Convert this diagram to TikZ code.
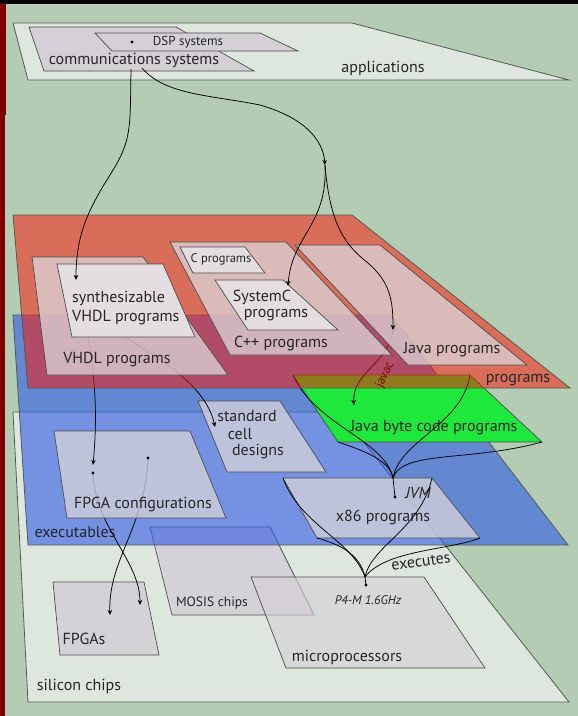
\documentclass[tikz,border=0pt]{standalone}
\usepackage{fontspec}
\setmainfont{PT Sans}
\usetikzlibrary{arrows.meta}
\definecolor{bg}{RGB}{180,204,180}
\definecolor{paper}{RGB}{222,231,222}
\definecolor{edge}{RGB}{80,92,80}
\definecolor{chip}{RGB}{212,208,214}
\definecolor{progred}{RGB}{255,16,0}
\definecolor{exeblue}{RGB}{46,89,229}
\definecolor{bytegreen}{RGB}{30,232,60}
\definecolor{exebox}{RGB}{215,212,218}
\definecolor{progbox}{RGB}{220,214,218}
\definecolor{subbox}{RGB}{228,222,224}
\definecolor{framered}{RGB}{128,0,0}
\begin{document}
\begin{tikzpicture}[x=1pt,y=-1pt,
  plane/.style={draw=edge, line width=0.8pt},
  box/.style={draw=black!70, line width=0.7pt},
  txt/.style={font=\fontsize{16}{18.5}\selectfont, inner sep=0pt, text=black!85},
  small/.style={font=\fontsize{13}{15}\selectfont, inner sep=0pt, text=black!85},
  link/.style={draw=black, line width=0.75pt},
  arr/.style={link, -{Stealth[length=5pt,width=4.5pt,inset=1.5pt]}},
  dot/.style={circle, fill=black, inner sep=0pt, minimum size=3.2pt}
]
\useasboundingbox (0,0) rectangle (578,716);
\fill[bg] (0,0) rectangle (578,716);

% ---------- silicon chips layer ----------
\filldraw[plane, fill=paper] (13,412) -- (340,412) -- (569,702) -- (28,702) -- cycle;
\node[txt] (silicon) at (79,686) {silicon chips};
\filldraw[box, fill=chip, fill opacity=0.9] (53,582) -- (144,582) -- (159,655) -- (60,655) -- cycle;
\node[txt] (fpgas) at (84,639) {FPGAs};
\filldraw[box, fill=chip, fill opacity=0.9] (150,527) -- (270,527) -- (314,615) -- (172,615) -- cycle;
\node[small, font=\fontsize{13.5}{15}\selectfont] (mosis) at (212,603) {MOSIS chips};
\filldraw[box, fill=chip, fill opacity=0.65] (251,577) -- (424,577) -- (485,668) -- (286,668) -- cycle;
\node[txt] (micro) at (347,657) {microprocessors};
\node[font=\fontsize{12.5}{14}\selectfont\itshape, inner sep=0pt, text=black!85] (p4m) at (368,600) {P4-M 1.6GHz};

% ---------- executables layer ----------
\filldraw[plane, fill=exeblue, fill opacity=0.6] (13,315) -- (391,315) -- (568,545) -- (28,545) -- cycle;
\node[txt] (exe) at (75,532) {executables};
\filldraw[box, fill=bytegreen] (293,375) -- (470,375) -- (542,442) -- (338,442) -- cycle;
\node[txt] (jbc) at (434,428) {Java byte code programs};

% configurations mapped onto FPGAs
\coordinate (cfgA) at (93,473);
\coordinate (cfgB) at (148,458);
\coordinate (fpgaA) at (140,605);
\coordinate (fpgaB) at (110,615);
\draw[arr] (cfgA) .. controls (95,528) and (140,560) .. (fpgaA);
\draw[arr] (cfgB) .. controls (145,528) and (108,560) .. (fpgaB);

\filldraw[box, fill=exebox, fill opacity=0.75] (54,431) -- (190,431) -- (226,518) -- (67,518) -- cycle;
\node[txt] (fpgacfg) at (143,504) {FPGA configurations};
\filldraw[box, fill=exebox, fill opacity=0.75] (198,401) -- (280,401) -- (326,472) -- (227,472) -- cycle;
\node[txt] (std1) at (247,416) {standard};
\node[txt] (std2) at (240,434) {cell};
\node[txt] (std3) at (258,452) {designs};
\filldraw[box, fill=exebox, fill opacity=0.75] (283,478) -- (432,478) -- (480,538) -- (317,538) -- cycle;
\node[txt] (x86) at (383,517) {x86 programs};
\node[dot] at (cfgA) {};
\node[dot] at (cfgB) {};

% Java byte code run by the JVM
\coordinate (jvmc) at (393,478);
\coordinate (jvm) at (395,497);
\draw[link] (293,375) .. controls (315,425) and (385,440) .. (jvmc);
\draw[link] (470,375) .. controls (462,425) and (400,440) .. (jvmc);
\draw[link] (542,442) .. controls (470,462) and (402,450) .. (jvmc);
\draw[link] (338,442) .. controls (362,450) and (390,460) .. (jvmc);
\draw[link] (jvmc) -- (jvm);
\node[dot] at (jvm) {};
\node[font=\fontsize{16}{18}\selectfont\itshape, inner sep=0pt, text=black!85] (jvmlbl) at (418,493) {JVM};

% x86 programs executed by the processor
\coordinate (p4c) at (365,577);
\coordinate (p4) at (366,585);
\draw[link] (283,478) .. controls (300,525) and (352,540) .. (p4c);
\draw[link] (317,538) .. controls (342,545) and (360,555) .. (p4c);
\draw[link] (432,478) .. controls (420,530) and (372,545) .. (p4c);
\draw[link] (480,538) .. controls (450,550) and (385,550) .. (p4c);
\draw[link] (p4c) -- (p4);
\node[dot] at (p4) {};
\node[txt, rotate=8] (executes) at (421,562) {executes};

% refinements drawn below the programs layer
\coordinate (synthpt) at (76,280);
\coordinate (vhdlsrc) at (100,322);
\coordinate (stdpt) at (215,427);
\coordinate (javapt) at (393,330);
\coordinate (bytept) at (354,405);
\draw[arr] (synthpt) .. controls (90,340) and (100,390) .. (93,465);
\draw[arr] (vhdlsrc) .. controls (145,350) and (205,380) .. (stdpt);
\draw[arr] (javapt) .. controls (388,365) and (352,372) .. (bytept);
\node[small, font=\fontsize{12.5}{14}\selectfont, rotate=65, text=black] (javac) at (385,375) {javac};

% ---------- programs layer ----------
\filldraw[plane, fill=progred, fill opacity=0.5] (13,215) -- (352,215) -- (570,388) -- (28,388) -- cycle;
\node[txt] (prog) at (518,380) {programs};
\filldraw[box, fill=progbox, fill opacity=0.75] (32,257) -- (143,257) -- (228,375) -- (47,375) -- cycle;
\node[txt] (vhdl) at (117,360) {VHDL programs};
\filldraw[box, fill=progbox, fill opacity=0.75] (170,242) -- (286,242) -- (392,355) -- (230,355) -- cycle;
\node[txt] (cpp) at (281,343) {C++ programs};
\filldraw[box, fill=progbox, fill opacity=0.75] (295,245) -- (380,245) -- (527,365) -- (408,365) -- cycle;
\node[txt] (java) at (452,350) {Java programs};
\filldraw[box, fill=subbox] (57,264) -- (163,264) -- (195,337) -- (72,337) -- cycle;
\node[txt, align=left, anchor=west] (synth) at (72,308) {synthesizable\\VHDL programs};
\filldraw[box, fill=subbox] (180,247) -- (245,247) -- (265,273) -- (193,273) -- cycle;
\node[small, font=\fontsize{12.5}{14}\selectfont] (cprog) at (221,259) {C programs};
\filldraw[box, fill=subbox] (215,280) -- (283,280) -- (338,330) -- (248,330) -- cycle;
\node[txt] (sysc1) at (262,297) {SystemC};
\node[txt] (sysc2) at (276,315) {programs};

% ---------- applications layer ----------
\filldraw[plane, fill=paper] (13,23) -- (352,23) -- (569,80) -- (28,80) -- cycle;
\node[txt] (apps) at (383,68) {applications};
\filldraw[box, fill=chip] (29,27) -- (176,27) -- (254,71) -- (44,71) -- cycle;
\node[txt] (comm) at (134,60) {communications systems};
\filldraw[box, fill=chip] (95,33) -- (260,33) -- (298,51) -- (112,51) -- cycle;
\node[small] (dsp) at (188,42) {DSP systems};
\node[dot] (dspdot) at (132,42) {};

% refinements from the applications
\coordinate (commA) at (131,69);
\coordinate (commB) at (142,68);
\coordinate (split) at (325,165);
\coordinate (systemcpt) at (288,286);
\draw[arr] (commA) .. controls (130,130) and (132,140) .. (110,175) .. controls (88,210) and (76,235) .. (synthpt);
\draw[arr] (commB) .. controls (165,95) and (210,95) .. (260,105) .. controls (305,118) and (323,140) .. (split);
\draw[arr] (split) .. controls (328,225) and (292,235) .. (systemcpt);
\draw[arr] (split) .. controls (330,225) and (345,245) .. (368,263) .. controls (390,282) and (393,300) .. (javapt);

% frame
\fill[framered] (0,0) rectangle (4.5,716);
\fill[framered] (0,3) rectangle (5.5,115);
\fill[black] (0,0) rectangle (578,3.5);
\end{tikzpicture}
\end{document}
